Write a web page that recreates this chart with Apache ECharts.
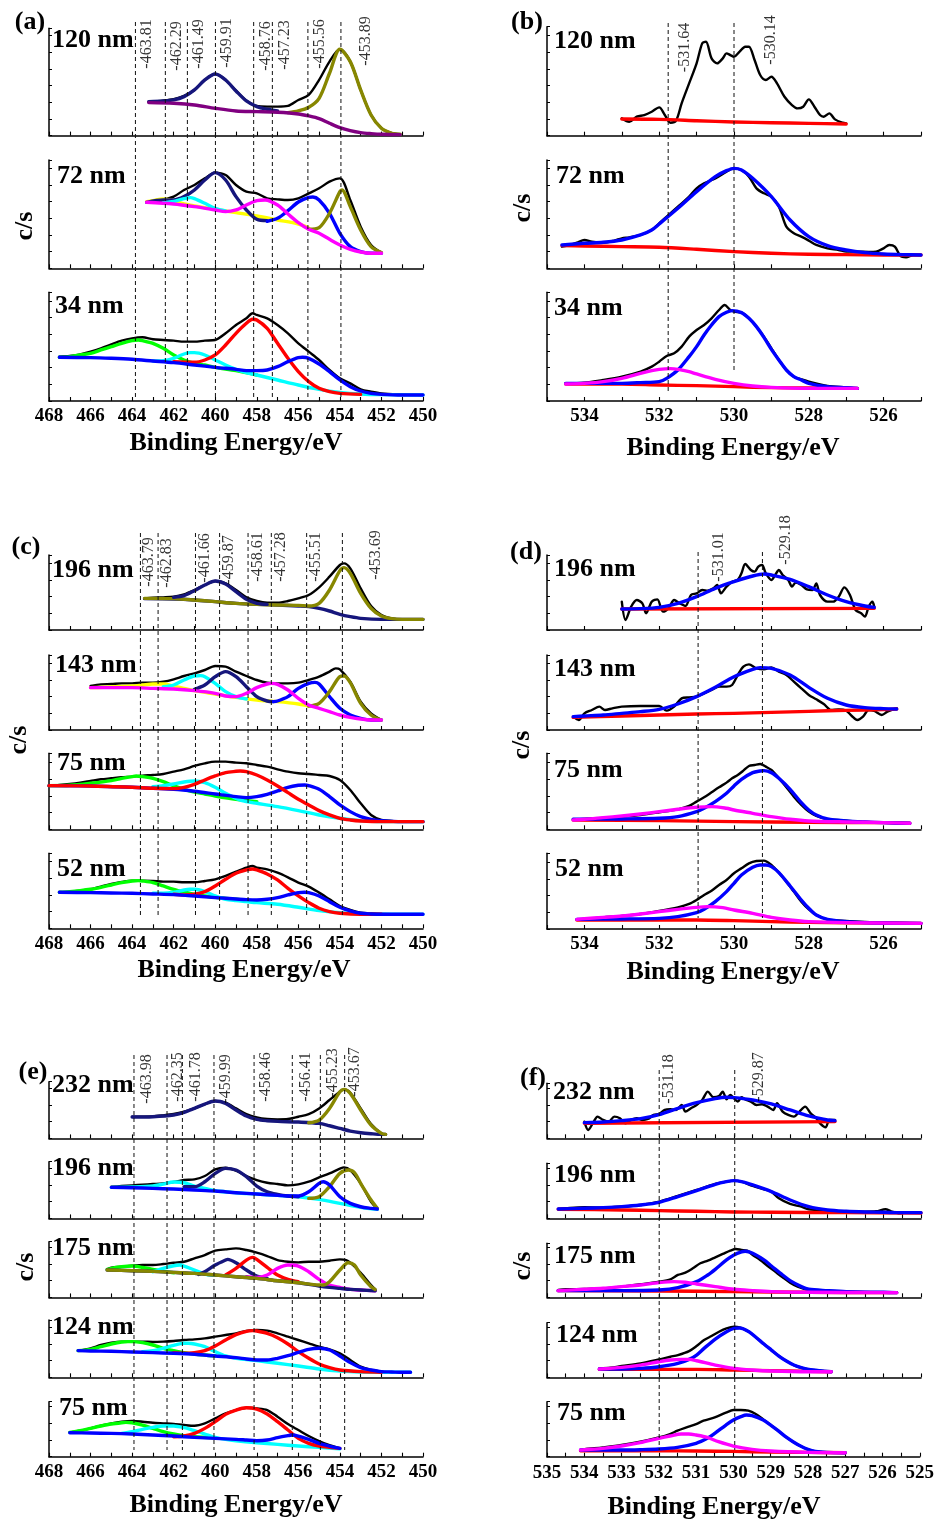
<!DOCTYPE html>
<html><head><meta charset="utf-8">
<script src="https://cdn.jsdelivr.net/npm/echarts@6/dist/echarts.min.js"></script>
<style>html,body{margin:0;padding:0;background:#fff}#c{width:937px;height:1524px}</style>
</head><body><div id="c"></div>
<script>
const P = (xs, ys) => xs.map((x, i) => [x, ys[i]]);

// ---------- (a) Ti 2p ----------
const a120_exp = P([463.2,462.5,462,461.5,461,460.5,460,459.5,459,458.5,458,457.5,457,456.5,456,455.5,455,454.5,454,453.5,453,452.5,452,451.5,451.1],[102,105,109,119,137,167,185,167,135,105,89,87,87,89,107,122,167,222,259,222,137,62,22,7,4]);
const a120_navy = P([463.2,462.5,462,461.5,461,460.5,460,459.5,459,458.5,458,457.5,457],[102,104,107,117,137,167,185,167,134,104,87,79,74]);
const a120_olive = P([456.5,456,455.5,455,454.5,454,453.5,453,452.5,452,451.5,451.1],[69,74,85,112,187,259,222,137,62,22,7,4]);
const a120_bg = P([463.2,462,461,460,459,458,457,456,455.5,455,454.5,454,453.5,453,452.5,452,451.1],[99,97,92,82,74,72,70,65,59,51,37,24,15,9,6,4,3]);

const a72_exp = P([463.3,462.5,462,461.5,461,460.5,460,459.5,459,458.5,458,457.5,457,456.5,456,455.5,455,454.5,454,453.5,453,452.5,452],[200,207,215,235,250,270,287,280,250,230,225,210,207,205,210,225,240,260,270,205,125,70,47]);
const a72_yellow = P([463.3,463,462.5,462,461.5,461,460,459,458,457,456,455.5],[200,203,208,203,193,187,177,167,157,145,133,121]);
const a72_cyan = P([462.5,462,461.5,461.2,461,460.5,460,459.5],[197,201,209,212,209,195,180,172]);
const a72_navy = P([463.3,462.5,462,461.5,461,460.5,460,459.5,459,458.5,458,457.5],[198,205,205,215,235,265,287,265,215,175,147,143]);
const a72_blue = P([457.5,457,456.5,456,455.5,455.3,455,454.5,454,453.5,453,452.5,452],[141,150,173,199,213,214,205,165,105,65,50,45,45]);
const a72_olive = P([455.5,455,454.5,454,453.9,453.5,453,452.5,452],[117,122,165,230,235,185,115,65,47]);
const a72_magenta = P([463.3,462,461,460,459.5,459,458.5,458,457.6,457,456.5,456,455.5,455,454.5,454,453.5,453,452.5,452],[198,193,185,175,170,175,190,203,205,190,163,137,117,105,87,70,57,49,45,45]);

const a34_exp = P([467.5,467,466.5,466,465.5,465,464.5,464,463.5,463,462.5,462,461.5,461,460.5,460,459.5,459,458.5,458.2,458,457.5,457,456.5,456,455.5,455,454.5,454,453.5,453,452.5,452,451,450],[133,135,140,148,158,170,181,188,191,185,183,181,178,178,181,183,203,228,248,263,258,248,228,203,173,148,123,93,68,53,35,28,23,20,18]);
const a34_green = P([467.5,467,466.5,466,465.5,465,464.5,464,463.7,463.5,463,462.5,462,461.5,461,460.5,460,459,458],[131,133,138,143,153,163,173,181,183,181,173,158,138,123,113,108,101,91,78]);
const a34_cyan = P([463,462.5,462,461.5,461.2,461,460.5,460,459.5,459,458.5,458,457,456,455,454,453,452,450],[120,121,128,141,145,145,138,123,108,95,85,78,63,48,35,26,21,19,18]);
const a34_red = P([462,461,460.5,460,459.5,459,458.5,458.2,458,457.5,457,456.5,456,455.5,455,454.5,454,453],[118,116,123,138,168,203,233,245,243,218,173,128,88,58,38,28,23,20]);
const a34_blue = P([467.5,466,465,464,463,462,461,460,459,458.5,458,457.5,457,456.5,456,455.8,455.5,455,454.5,454,453.5,453,452.5,452,451,450],[131,130,128,125,120,115,108,101,95,91,91,93,103,118,130,131,128,111,88,63,43,30,23,20,18,18]);

// ---------- (b) O 1s ----------
const b120_exp = P([533,532.8,532.6,532.4,532.2,532,531.85,531.7,531.55,531.4,531.2,531,530.85,530.75,530.6,530.45,530.3,530.2,530.1,530,529.85,529.7,529.6,529.45,529.3,529.15,529,528.85,528.65,528.45,528.3,528.15,528,527.85,527.7,527.6,527.45,527.3,527.1,527],[52,42,57,62,72,85,62,39,45,97,157,217,277,282,232,217,232,247,242,237,252,267,267,227,182,167,177,157,117,92,82,87,109,87,62,57,67,49,39,37]);
const b120_red = P([533,532,531,530,529,528,527],[50,49,45,41,39,37,35]);

const b72_exp = P([534.6,534.4,534.2,534,533.8,533.5,533.2,533,532.8,532.5,532.2,532,531.8,531.5,531.2,531,530.8,530.5,530.2,530,529.8,529.6,529.4,529.2,529,528.8,528.6,528.4,528.2,528,527.8,527.5,527.2,527,526.7,526.4,526.2,526,525.85,525.7,525.55,525.4,525.2,525],[65,70,77,85,80,77,83,90,93,100,115,135,155,185,215,240,255,270,290,300,295,275,240,225,215,185,125,105,95,83,70,60,55,50,50,49,50,60,70,65,37,33,40,40]);
const b72_blue = P([534.6,534,533.5,533,532.5,532.2,532,531.5,531,530.5,530.2,530,529.8,529.5,529,528.5,528,527.5,527,526.5,526,525.5,525],[70,75,78,85,100,115,133,180,230,275,293,300,295,270,215,145,95,68,55,47,43,41,40]);
const b72_red = P([534.6,534,533,532,531,530,529,528,527,526,525],[68,67,65,63,57,50,45,42,41,40,40]);

const b34_exp = P([534.5,534,533.5,533,532.5,532.2,532,531.8,531.6,531.4,531.2,531,530.8,530.6,530.4,530.25,530.1,530,529.8,529.6,529.4,529.2,529,528.8,528.6,528.4,528.2,528,527.5,527,526.7],[53,55,63,73,88,103,118,135,143,163,193,213,228,248,273,288,273,268,265,248,223,193,158,123,93,73,65,58,45,41,38]);
const b34_blue = P([534.5,533.5,533,532.5,532,531.8,531.5,531.2,531,530.8,530.6,530.4,530.2,530.05,529.8,529.6,529.4,529.2,529,528.8,528.6,528.4,528.2,528,527.5,527,526.7],[53,53,53,55,58,68,93,133,163,198,228,253,266,271,265,248,223,191,155,123,93,73,63,53,43,40,38]);
const b34_magenta = P([534.5,534,533.5,533,532.5,532.2,532,531.7,531.5,531.2,531,530.5,530,529.5,529,528,527,526.7],[51,53,58,68,83,91,95,97,95,88,81,65,53,45,41,38,38,38]);
const b34_red = P([534.5,533,532,531,530,529,528,526.7],[51,51,48,46,43,40,39,38]);

// ---------- (c) Ti 2p ----------
const c196_exp = P([463.4,463,462.5,462,461.5,461,460.5,460,459.5,459,458.5,458,457.5,457,456.5,456,455.5,455,454.5,454,453.8,453.5,453,452.5,452,451.5,451,450],[95,97,98,100,107,120,135,147,140,120,98,87,82,82,87,95,105,128,160,195,200,185,125,72,45,35,32,32]);
const c196_navy = P([462,461.5,461,460.5,460,459.5,459,458.5,458,457.5],[98,103,118,135,147,138,115,92,80,77]);
const c196_bg = P([463.4,462,461,460,459,458,457,456,455.5,455,454.5,454,453.5,453,452,450],[94,93,90,85,80,77,75,72,70,65,57,47,40,35,32,32]);
const c196_olive = P([463.4,462,461,460,459,458,457,456,455.5,455,454.5,454,453.8,453.5,453,452.5,452,451.5,451,450],[95,94,90,85,80,77,75,74,72,80,120,178,187,170,110,65,42,34,32,32]);

const c143_exp = P([466,465.5,465,464.5,464,463.5,463,462.5,462,461.5,461,460.5,460,459.5,459,458.5,458,457.5,457,456.5,456,455.5,455,454.5,454.2,454,453.5,453,452.5,452],[132,137,138,140,140,142,142,145,152,162,170,180,192,190,175,162,150,142,140,140,142,150,160,175,185,182,145,85,50,30]);
const c143_yellow = P([466,464,463.5,463,462.5,462,461.5,461,460,459,458,457,456,455.5],[127,132,135,138,138,132,125,118,108,98,90,85,78,72]);
const c143_cyan = P([462.5,462,461.5,461,460.7,460.5,460,459.5,459,458.5],[130,135,150,162,163,160,140,115,100,93]);
const c143_navy = P([461,460.5,460,459.5,459,458.5,458,457.5,457.2],[122,135,160,175,160,130,100,87,85]);
const c143_blue = P([457.2,457,456.5,456,455.5,455.2,455,454.5,454,453.5,453,452.5,452],[85,87,100,125,140,143,138,100,65,45,35,30,30]);
const c143_olive = P([455.5,455,454.5,454,453.8,453.5,453,452.5,452],[72,80,115,160,162,142,80,45,30]);
const c143_magenta = P([466,465,464,463,462,461,460,459.5,459,458.5,458,457.5,457.3,457,456.5,456,455.5,455,454.5,454,453.5,453,452.5,452],[127,127,127,125,123,118,110,102,100,110,127,138,140,137,120,95,75,65,55,45,38,33,30,30]);

const c75_exp = P([468,467.5,467,466.5,466,465.5,465,464.5,464,463.5,463,462.5,462,461.5,461,460.5,460,459.5,459,458.5,458,457.5,457,456.5,456,455.5,455,454.5,454,453.5,453,452.5,452,451.5,451,450],[131,133,136,140,145,150,153,156,158,161,163,166,173,180,190,198,203,203,200,198,193,188,180,173,168,166,163,160,148,118,78,43,28,25,23,23]);
const c75_green = P([468,467,466,465,464.5,464,463.8,463.5,463,462.5,462,461.5,461,460.5,460,459,458],[131,132,138,146,153,158,160,158,153,143,130,120,112,106,100,90,83]);
const c75_cyan = P([463,462.5,462,461.5,461,460.5,460,459.5,459,458.5,458,457,456,455,454,453,452,450],[128,131,136,142,145,140,126,108,93,83,78,68,56,43,33,26,23,23]);
const c75_blue = P([468,466,464,463,462,461,460,459,458.5,458,457.5,457,456.5,456,455.7,455.5,455,454.5,454,453.5,453,452.5,452,451,450],[131,130,126,123,120,114,106,98,95,98,105,115,126,132,133,131,120,98,73,53,38,30,26,23,23]);
const c75_red = P([468,466,464,463,462,461.5,461,460.5,460,459.5,459,458.8,458.5,458,457.5,457,456.5,456,455.5,455,454.5,454,453.5,453,452,450],[131,130,126,123,122,126,135,148,160,170,174,175,173,163,148,130,110,90,73,56,43,33,28,25,23,23]);

const c52_exp = P([467.5,467,466.5,466,465.5,465,464.5,464,463.5,463,462.5,462,461.5,461,460.5,460,459.5,459,458.5,458.2,458,457.5,457,456.5,456,455.5,455,454.5,454,453.5,453,452.5,452,451,450],[108,110,113,117,125,133,139,143,143,142,140,140,138,138,142,147,157,170,182,187,182,177,167,153,137,125,107,87,67,55,47,45,43,42,42]);
const c52_green = P([467.5,467,466.5,466,465.5,465,464.5,464,463.7,463.5,463,462.5,462,461.5,461,460.5,460,459,458],[108,110,113,117,123,130,137,142,143,142,137,127,117,109,102,97,93,87,80]);
const c52_cyan = P([463,462.5,462,461.5,461.2,461,460.5,460,459.5,459,458.5,458,457,456,455,454,453,452,450],[105,105,108,115,117,117,110,97,87,83,80,77,72,63,53,47,43,42,42]);
const c52_red = P([462,461.5,461,460.5,460,459.5,459,458.5,458.2,458,457.5,457,456.5,456,455.5,455,454.5,454,453,452],[102,100,102,110,127,147,165,175,178,175,163,145,120,97,77,60,50,45,42,42]);
const c52_blue = P([467.5,466,465,464,463,462,461,460,459,458.5,458,457.5,457,456.5,456,455.7,455.5,455,454.5,454,453.5,453,452.5,452,450],[108,107,106,105,103,101,97,92,88,86,85,87,92,100,107,108,107,97,80,63,52,45,43,42,42]);

// ---------- (d) O 1s ----------
const d196_exp = P([533,532.9,532.75,532.6,532.45,532.35,532.2,532.05,531.9,531.75,531.6,531.45,531.3,531.15,531,530.85,530.7,530.55,530.45,530.35,530.2,530.05,529.9,529.8,529.7,529.55,529.45,529.35,529.25,529.15,529,528.9,528.8,528.7,528.55,528.45,528.35,528.2,528.05,527.9,527.8,527.7,527.5,527.35,527.2,527.05,526.9,526.75,526.6,526.5,526.4,526.3,526.25],[85,30,70,90,80,50,85,92,55,65,90,80,72,105,110,120,118,125,135,110,130,145,150,170,198,180,175,190,195,170,150,165,180,165,150,130,142,135,122,120,140,105,85,85,100,128,105,60,50,40,70,85,70]);
const d196_blue = P([533,532.5,532,531.5,531,530.5,530,529.5,529.2,529,528.5,528,527.5,527,526.5,526.25],[63,64,68,80,100,125,145,162,168,165,152,130,105,85,72,68]);
const d196_red = P([533,526.25],[63,65]);

const d143_exp = P([534.3,534.15,534,533.8,533.6,533.45,533.25,533,532.5,532,531.8,531.6,531.4,531.2,531,530.8,530.6,530.4,530.2,530.05,529.9,529.75,529.6,529.4,529.2,529,528.8,528.6,528.4,528.2,528,527.8,527.6,527.4,527.2,527,526.85,526.7,526.55,526.4,526.25,526.05,525.9,525.75,525.65],[40,30,50,60,70,60,65,70,72,72,58,70,95,98,100,110,120,130,130,135,165,190,197,185,182,188,175,165,145,125,105,92,78,60,62,58,42,30,40,60,57,45,55,62,65]);
const d143_blue = P([534.3,534,533.5,533,532.5,532,531.5,531,530.5,530,529.5,529.3,529,528.5,528,527.5,527,526.5,526,525.65],[40,42,45,50,55,62,78,100,128,160,182,187,185,165,128,95,75,67,64,63]);
const d143_red = P([534.3,533,532,531,530,529,528,527,526,525.65],[38,42,45,48,50,53,56,59,61,63]);

const d75_exp = P([534.3,534,533.5,533,532.5,532,531.5,531.2,531,530.8,530.6,530.4,530.2,530.05,529.9,529.75,529.6,529.45,529.3,529.15,529,528.8,528.6,528.4,528.2,528,527.8,527.5,527,526.5,526,525.5,525.3],[30,31,34,38,43,51,60,70,83,96,111,126,140,153,163,176,190,193,196,188,178,153,126,98,73,53,40,30,26,22,20,20,18]);
const d75_blue = P([534.3,533,532,531.5,531,530.8,530.5,530.2,530,529.8,529.5,529.3,529.2,529,528.8,528.5,528.2,528,527.8,527.5,527,526.5,526,525.3],[30,31,33,38,53,63,83,108,130,150,170,175,176,170,153,120,80,58,43,31,25,22,20,18]);
const d75_magenta = P([534.3,534,533.5,533,532.5,532,531.5,531,530.6,530.2,530,529.5,529,528.5,528,527,526,525.3],[28,30,35,40,46,53,60,66,68,63,58,48,38,30,25,22,20,18]);
const d75_red = P([534.3,532,530,528,526,525.3],[28,26,23,21,20,18]);

const d52_exp = P([534.2,534,533.5,533,532.5,532,531.5,531.2,531,530.8,530.6,530.4,530.2,530,529.8,529.6,529.4,529.2,529,528.8,528.6,528.4,528.2,528,527.8,527.5,527,526.5,526,525],[29,30,35,39,45,54,65,75,87,102,115,132,147,167,182,197,204,205,192,169,142,112,82,59,42,29,24,21,19,17]);
const d52_blue = P([534.2,533,532,531.5,531,530.8,530.5,530.2,530,529.8,529.5,529.3,529.15,529,528.8,528.5,528.2,528,527.8,527.5,527,526.5,526,525],[29,30,32,37,49,59,82,112,137,162,185,192,192,187,169,129,87,62,42,29,22,19,18,17]);
const d52_magenta = P([534.2,534,533.5,533,532.5,532,531.5,531,530.7,530.3,530,529.5,529,528.5,528,527,525],[29,31,35,39,45,52,59,65,67,64,57,47,35,27,22,19,17]);
const d52_red = P([534.2,532,531,530,529,528,526,525],[27,27,27,25,22,20,18,17]);

// ---------- (e) Ti 2p ----------
const e232_exp = P([464,463,462.5,462,461.5,461,460.5,460,459.5,459,458.5,458,457.5,457,456.5,456,455.5,455,454.5,454,453.8,453.5,453,452.5,452,451.8],[65,66,69,73,80,90,103,112,107,90,73,63,58,57,58,65,73,90,115,140,147,137,90,43,15,12]);
const e232_navy = P([464,463,462,461.5,461,460.5,460,459.5,459,458.5,458,457.5,457,456,455,454.5,454,453.5,453,452.5,452,451.8],[64,65,70,78,90,103,112,105,85,67,57,53,51,49,45,38,30,22,17,14,12,12]);
const e232_olive = P([455.5,455,454.5,454,453.8,453.5,453,452.5,452,451.8],[47,55,90,140,147,135,85,40,15,12]);

const e196_exp = P([465,464.5,464,463.5,463,462.5,462,461.5,461,460.5,460,459.5,459,458.5,458,457.5,457,456.5,456,455.5,455,454.5,454,453.8,453.5,453,452.5,452.2],[95,97,99,101,103,105,109,115,117,127,147,152,143,127,115,107,103,99,102,110,123,135,149,153,145,105,50,30]);
const e196_cyan = P([465,464,463,462.5,462,461.5,461,460.5,460,459,458,457,456,455,454,453,452.2],[93,94,97,103,109,107,97,90,83,77,73,69,65,57,45,33,27]);
const e196_navy = P([461.5,461,460.5,460,459.5,459,458.5,458,457.5,457,456.5,456],[95,95,110,135,150,145,125,97,80,72,67,65]);
const e196_olive = P([455.5,455,454.5,454,453.6,453.3,453,452.5,452.2],[60,65,95,135,145,137,105,55,30]);
const e196_blue = P([465,464,463,462,461,460,459,458,457,456.5,456,455.5,455,454.8,454.5,454,453.5,453,452.5,452.2],[93,92,90,88,85,82,77,73,69,67,67,80,105,110,100,65,45,35,30,28]);

const e175_exp = P([465.2,465,464.5,464,463.5,463,462.5,462,461.5,461,460.5,460,459.5,459,458.5,458,457.5,457,456.5,456,455.5,455,454.5,454,453.7,453.5,453,452.5,452.3],[84,89,92,95,97,97,100,104,107,117,127,140,144,147,142,134,124,112,107,105,107,107,110,114,112,104,74,37,24]);
const e175_green = P([465.2,465,464.5,464,463.5,463,462.5,462],[84,87,92,94,90,84,78,74]);
const e175_cyan = P([463,462.5,462,461.7,461.5,461,460.5,460],[77,87,95,97,94,82,70,66]);
const e175_navy = P([460.8,460.5,460,459.5,459.4,459,458.5,458,457.5],[69,77,97,112,114,104,82,64,57]);
const e175_red = P([459.5,459,458.5,458.2,458,457.5,457,456.5,456],[67,87,112,120,114,90,67,54,47]);
const e175_magenta = P([458.5,458,457.5,457,456.5,456,455.5,455,454.5,454,453.5,453,452.3],[62,60,67,87,97,94,77,54,37,30,24,22,20]);
const e175_bg = P([465.2,464,463,462,461,460,459,458,457,456,455,454.5,454,453.5,453,452.3],[82,80,78,75,72,67,62,57,50,44,34,30,27,24,22,20]);
const e175_olive = P([465.2,464,463,462,461,460,459,458,457,456,455,454.8,454.5,454,453.6,453.3,453,452.5,452.3],[82,80,78,75,72,67,62,57,50,44,37,37,47,82,104,97,67,32,24]);

const e124_exp = P([466.6,466,465.5,465,464.5,464,463.5,463,462.5,462,461.5,461,460.5,460,459.5,459,458.5,458,457.5,457,456.5,456,455.5,455,454.5,454,453.5,453,452.5,452,451.5,451,450.6],[80,87,97,104,107,107,107,106,107,109,112,114,117,122,127,132,139,142,140,132,122,112,102,92,84,72,52,32,22,17,15,15,15]);
const e124_green = P([466.6,466,465.5,465,464.5,464.2,464,463.5,463,462.5,462,461.5,461,460],[80,84,92,100,106,107,107,104,97,87,80,74,70,64]);
const e124_cyan = P([463.5,463,462.5,462,461.5,461.3,461,460.5,460,459.5,459,458,457,456,455,454,453,452,450.6],[77,80,87,96,102,102,100,92,77,64,57,50,42,34,25,19,16,15,15]);
const e124_red = P([462,461.5,461,460.5,460,459.5,459,458.5,458.2,458,457.5,457,456.5,456,455.5,455,454.5,454,453,452],[74,72,74,80,94,112,128,138,140,139,132,119,100,77,57,40,29,22,17,15]);
const e124_blue = P([466.6,466,465,464,463,462,461,460,459,458.5,458,457.5,457,456.5,456,455.5,455,454.5,454,453.5,453,452.5,452,451.5,451,450.6],[80,79,78,76,74,72,69,64,59,55,52,52,57,65,75,84,87,82,64,44,29,22,17,16,15,15]);

const e75_exp = P([467,466.5,466,465.5,465,464.5,464,463.5,463,462.5,462,461.5,461,460.5,460,459.5,459,458.5,458,457.5,457,456.5,456,455.5,455,454.5,454],[73,78,85,93,100,105,107,105,102,100,98,95,93,100,115,130,140,147,145,140,120,98,80,62,47,35,25]);
const e75_green = P([467,466.5,466,465.5,465,464.5,464.3,464,463.5,463,462.5,462,461.5,461,460],[73,78,85,92,98,102,103,102,95,85,75,68,63,60,57]);
const e75_cyan = P([464.5,464,463.5,463,462.5,462,461.5,461,460.5,460,459.5,459,458,457,456,455,454],[70,75,82,88,92,92,87,78,68,58,52,48,42,37,32,28,24]);
const e75_red = P([462,461.5,461,460.5,460,459.5,459,458.5,458,457.5,457,456.5,456,455.5,455,454.5,454],[60,62,70,85,105,127,140,147,143,128,105,80,55,40,32,28,25]);
const e75_blue = P([467,466,465,464,463,462,461,460,459,458.5,458,457.5,457,456.5,456.3,456,455.5,455,454.5,454],[72,71,70,68,65,62,58,55,52,50,48,50,57,63,65,62,52,40,32,25]);

// ---------- (f) O 1s ----------
const f232_exp = P([534,533.9,533.75,533.65,533.5,533.35,533.2,533.05,532.9,532.75,532.6,532.45,532.3,532.15,532,531.85,531.7,531.55,531.4,531.3,531.15,531,530.85,530.7,530.55,530.4,530.3,530.2,530.1,530,529.9,529.8,529.7,529.55,529.4,529.25,529.1,528.95,528.85,528.7,528.55,528.4,528.25,528.1,527.95,527.8,527.7,527.55,527.45,527.3],[50,25,50,65,55,50,65,60,45,55,60,55,58,70,73,85,87,85,100,80,90,100,115,140,123,127,140,117,130,120,110,123,117,110,100,102,95,85,105,80,70,65,80,95,75,60,45,33,55,55]);
const f232_blue = P([534,533.5,533,532.5,532,531.5,531,530.5,530.2,530,529.5,529,528.5,528,527.5,527.3],[47,49,53,59,71,90,107,119,123,122,115,103,85,67,55,53]);
const f232_red = P([534,527.3],[45,50]);

const f196_exp = P([534.7,534.5,534,533.5,533,532.5,532,531.5,531,530.5,530.2,530,529.8,529.5,529.2,529,528.8,528.5,528.2,528,527.5,527,526.5,526.2,525.95,525.8,525.6,525.4,525],[28,30,33,32,35,40,50,67,85,103,110,113,110,97,87,80,60,43,35,27,23,20,20,21,27,21,15,17,17]);
const f196_blue = P([534.7,534,533.5,533,532.5,532,531.5,531,530.5,530.2,530,529.8,529.5,529,528.5,528,527.5,527,526.5,526,525.5,525],[28,30,32,35,40,48,65,83,102,110,113,110,100,80,55,35,25,21,19,18,17,17]);
const f196_red = P([534.7,533,532,531,530,529,527,525],[27,25,23,21,19,18,17,16]);

const f175_exp = P([534.7,534.5,534,533.5,533,532.5,532,531.7,531.5,531.3,531.1,530.9,530.7,530.5,530.3,530.1,529.95,529.8,529.65,529.5,529.3,529.1,528.9,528.7,528.5,528.3,528,527.5,527,526.5,526,525.65],[22,24,25,27,32,39,47,54,67,74,87,102,110,120,130,140,145,142,140,127,112,94,77,60,44,32,22,19,17,15,14,14]);
const f175_blue = P([534.7,534,533,532,531.5,531,530.7,530.5,530.2,530,529.8,529.7,529.5,529.2,529,528.7,528.5,528.2,528,527.5,527,526,525.65],[20,20,20,22,29,47,67,84,112,127,136,138,132,112,94,67,50,32,24,20,17,15,14]);
const f175_magenta = P([534.7,534,533.5,533,532.5,532,531.6,531.3,531,530.5,530,529.5,529,528,526,525.65],[20,24,27,32,37,44,47,45,40,32,24,20,17,15,14,14]);
const f175_red = P([534.7,532,530,528,525.65],[20,19,17,15,14]);

const f124_exp = P([533.6,533.3,533,532.5,532,531.7,531.5,531.2,531,530.8,530.6,530.4,530.2,530,529.85,529.6,529.4,529.2,529,528.8,528.6,528.4,528.2,528,527.7,527.4],[27,29,34,42,54,62,67,79,94,112,124,137,147,152,150,137,119,100,82,64,49,37,29,24,20,17]);
const f124_blue = P([533.6,533,532.5,532,531.5,531.2,531,530.8,530.5,530.2,530,529.85,529.6,529.4,529.2,529,528.8,528.6,528.4,528.2,528,527.7,527.4],[25,25,27,32,42,54,67,87,115,137,147,148,137,119,100,82,64,49,37,29,24,20,17]);
const f124_magenta = P([533.6,533,532.5,532,531.7,531.4,531.2,531,530.5,530,529.5,529,528,527.4],[25,30,37,47,52,54,54,50,37,27,22,19,17,17]);
const f124_red = P([533.6,532,531,530,529,528,527.4],[24,24,24,22,20,18,17]);

const f75_exp = P([534.1,534,533.5,533,532.5,532,531.7,531.5,531.2,531,530.8,530.5,530.2,530,529.8,529.6,529.4,529.2,529,528.8,528.6,528.4,528.2,528,527.8,527.5,527.2,527],[20,22,28,35,45,58,68,78,90,98,108,118,132,140,140,138,128,112,95,78,60,45,32,22,16,13,12,12]);
const f75_blue = P([534.1,533,532.5,532,531.5,531,530.7,530.5,530.2,530,529.8,529.65,529.5,529.2,529,528.8,528.6,528.4,528.2,528,527.8,527.5,527],[20,20,21,23,28,40,55,70,95,110,120,125,123,110,95,78,60,45,32,22,16,13,12]);
const f75_magenta = P([534.1,534,533.5,533,532.5,532,531.7,531.4,531.2,531,530.7,530.4,530,529.5,529,528,527],[20,21,25,32,42,55,62,68,68,65,58,45,32,22,17,13,12]);
const f75_red = P([534.1,532,531,530,529,528,527],[18,18,17,16,14,13,12]);

// ---------- reference lines (binding energies) and their labels ----------
const a_lines = [463.84,462.40,461.34,459.99,458.15,457.25,455.54,453.95];
const a_labels = ['-463.81','-462.29','-461.49','-459.91','-458.76','-457.23','-455.56','-453.89'];
const b_lines = [531.76,530.0];
const b_labels = ['-531.64','-530.14'];
const c_lines = [463.60,462.75,460.95,459.79,458.42,457.30,455.60,453.88];
const c_labels = ['-463.79','-462.83','-461.66','-459.87','-458.61','-457.28','-455.51','-453.69'];
const d_lines = [530.96,529.24];
const d_labels = ['-531.01','-529.18'];
const e_lines = [463.91,462.32,461.58,460.06,458.13,456.29,454.94,453.77];
const e_labels = ['-463.98','-462.35','-461.78','-459.99','-458.46','-456.41','-455.23','-453.67'];
const f_lines = [532.0,529.98];
const f_labels = ['-531.18','-529.87'];

// ---------- styles / layout ----------
const FONT = '"Liberation Serif","Times New Roman",serif';
const K='#000000', NV='#16167c', OL='#878700', PU='#800080', MG='#ff00ff', BL='#0000ff', CY='#00ffff', YE='#ffff00', GR='#00ff00', RD='#ff0000';
const evenFmt = v => (Math.abs(v - Math.round(v)) < 1e-6 && Math.round(v) % 2 === 0) ? String(Math.round(v)) : '';
const intFmt = v => (Math.abs(v - Math.round(v)) < 1e-6) ? String(Math.round(v)) : '';
const E = (d) => [d, K, 2.4];
const C = (d, c) => [d, c, 3.4];
const LABEL_SHIFT = 2.5;

const LAYOUT = [
 {left:49, width:374, range:[450,468], step:1, fmt:evenFmt, margin:6,
  oTop:0, oH:401, lTop:22, lBot:[397,397,397,397,397,397,397,397], labY:[44,46,44,43,46,45,44,41], labDx:[8.5,9,9,8.5,9.3,9.8,9.2,22.7], lines:a_lines, labels:a_labels,
  subs:[
   {top:28.3, height:107.3, ymax:322, curves:[E(a120_exp),C(a120_navy,NV),C(a120_olive,OL),C(a120_bg,PU)]},
   {top:160, height:108.3, ymax:325, curves:[E(a72_exp),C(a72_yellow,YE),C(a72_navy,NV),C(a72_cyan,CY),C(a72_blue,BL),C(a72_olive,OL),C(a72_magenta,MG)]},
   {top:292.3, height:108.7, ymax:326, curves:[E(a34_exp),C(a34_green,GR),C(a34_cyan,CY),C(a34_red,RD),C(a34_blue,BL)]}
  ]},
 {left:547, width:374, range:[525,535], step:1, fmt:evenFmt, margin:6,
  oTop:0, oH:401, lTop:23, lBot:[392,370], labY:[47.5,40], labDx:[14,34.7], lines:b_lines, labels:b_labels,
  subs:[
   {top:26.7, height:109, ymax:327, curves:[E(b120_exp),C(b120_red,RD)]},
   {top:160, height:108.3, ymax:325, curves:[E(b72_exp),C(b72_red,RD),C(b72_blue,BL)]},
   {top:292.3, height:108.7, ymax:326, curves:[E(b34_exp),C(b34_red,RD),C(b34_blue,BL),C(b34_magenta,MG)]}
  ]},
 {left:49, width:374, range:[450,468], step:1, fmt:evenFmt, margin:6,
  oTop:500, oH:428, lTop:533, lBot:[918,918,918,918,918,918,918,918], labY:[562,563,558,560,557,557,557,555], labDx:[6,6,6.5,7,7,6.5,7,31], lines:c_lines, labels:c_labels,
  subs:[
   {top:555, height:75, ymax:225, curves:[E(c196_exp),C(c196_bg,NV),C(c196_olive,OL),C(c196_navy,NV)]},
   {top:655, height:75, ymax:225, curves:[E(c143_exp),C(c143_yellow,YE),C(c143_cyan,CY),C(c143_navy,NV),C(c143_blue,BL),C(c143_olive,OL),C(c143_magenta,MG)]},
   {top:753.3, height:76, ymax:228, curves:[E(c75_exp),C(c75_green,GR),C(c75_cyan,CY),C(c75_blue,BL),C(c75_red,RD)]},
   {top:853.3, height:75, ymax:225, curves:[E(c52_exp),C(c52_green,GR),C(c52_cyan,CY),C(c52_red,RD),C(c52_blue,BL)]}
  ]},
 {left:547, width:374, range:[525,535], step:1, fmt:evenFmt, margin:6,
  oTop:500, oH:429, lTop:552, lBot:[918,918], labY:[557,540], labDx:[18.4,21], lines:d_lines, labels:d_labels,
  subs:[
   {top:555, height:75, ymax:225, curves:[E(d196_exp),C(d196_red,RD),C(d196_blue,BL)]},
   {top:655, height:75, ymax:225, curves:[E(d143_exp),C(d143_red,RD),C(d143_blue,BL)]},
   {top:753.3, height:76, ymax:228, curves:[E(d75_exp),C(d75_red,RD),C(d75_blue,BL),C(d75_magenta,MG)]},
   {top:853.3, height:75.7, ymax:227, curves:[E(d52_exp),C(d52_red,RD),C(d52_blue,BL),C(d52_magenta,MG)]}
  ]},
 {left:49, width:374, range:[450,468], step:1, fmt:evenFmt, margin:6,
  oTop:1040, oH:417, lTop:1055, lBot:[1450,1450,1450,1450,1450,1450,1450,1450], labY:[1079,1077,1077,1079,1077,1077,1073,1072], labDx:[10.7,8.7,10.6,9,9,10.6,10.3,7.3], lines:e_lines, labels:e_labels,
  subs:[
   {top:1081.7, height:56.7, ymax:170, curves:[E(e232_exp),C(e232_navy,NV),C(e232_olive,OL)]},
   {top:1161.7, height:56.7, ymax:170, curves:[E(e196_exp),C(e196_cyan,CY),C(e196_navy,NV),C(e196_olive,OL),C(e196_blue,BL)]},
   {top:1241.7, height:55.7, ymax:167, curves:[E(e175_exp),C(e175_green,GR),C(e175_cyan,CY),C(e175_navy,NV),C(e175_red,RD),C(e175_magenta,MG),C(e175_bg,NV),C(e175_olive,OL)]},
   {top:1320, height:57.3, ymax:172, curves:[E(e124_exp),C(e124_green,GR),C(e124_cyan,CY),C(e124_red,RD),C(e124_blue,BL)]},
   {top:1401.7, height:55, ymax:165, curves:[E(e75_exp),C(e75_green,GR),C(e75_cyan,CY),C(e75_red,RD),C(e75_blue,BL)]}
  ]},
 {left:547, width:374, range:[525,535], step:0.5, fmt:intFmt, margin:7,
  oTop:1040, oH:417, lTop:1070, lBot:[1450,1450], labY:[1079,1077], labDx:[7.4,21.7], lines:f_lines, labels:f_labels,
  subs:[
   {top:1083.3, height:55, ymax:165, curves:[E(f232_exp),C(f232_red,RD),C(f232_blue,BL)]},
   {top:1163.3, height:55, ymax:165, curves:[E(f196_exp),C(f196_red,RD),C(f196_blue,BL)]},
   {top:1243.3, height:54, ymax:162, curves:[E(f175_exp),C(f175_red,RD),C(f175_blue,BL),C(f175_magenta,MG)]},
   {top:1322.7, height:54.7, ymax:164, curves:[E(f124_exp),C(f124_red,RD),C(f124_blue,BL),C(f124_magenta,MG)]},
   {top:1401.7, height:55, ymax:165, curves:[E(f75_exp),C(f75_red,RD),C(f75_blue,BL),C(f75_magenta,MG)]}
  ]}
];

// texts: [text, x, y]
const PANEL_LETTERS = [['(a)',30,22],['(b)',527,22],['(c)',26,547],['(d)',526,552],['(e)',33,1072],['(f)',533,1078]];
const SUB_NAMES = [
 ['120 nm',52,40],['72 nm',57,176],['34 nm',55,306],
 ['120 nm',554,41],['72 nm',556,176],['34 nm',554,308],
 ['196 nm',52,570],['143 nm',55,665],['75 nm',57,763],['52 nm',57,869],
 ['196 nm',554,569],['143 nm',554,669],['75 nm',554,770],['52 nm',555,869],
 ['232 nm',52,1085],['196 nm',52,1168],['175 nm',52,1248],['124 nm',52,1327],['75 nm',59,1408],
 ['232 nm',553,1092],['196 nm',554,1175],['175 nm',554,1256],['124 nm',556,1335],['75 nm',557,1413]
];
const YNAMES = [['c/s',25,226],['c/s',523,208],['c/s',19,740],['c/s',522,745],['c/s',26,1267],['c/s',523,1266]];
const XNAMES = [['Binding Energy/eV',236,443],['Binding Energy/eV',733,448],['Binding Energy/eV',244,970],['Binding Energy/eV',733,972],['Binding Energy/eV',236,1505],['Binding Energy/eV',714,1507]];

// ---------- build option ----------
const grids = [], xAxes = [], yAxes = [], series = [];
const axisLineStyle = {color:'#000', width:1.5};
LAYOUT.forEach(p => {
  p.subs.forEach((s, i) => {
    const gi = grids.length;
    const last = i === p.subs.length - 1;
    grids.push({left:p.left, width:p.width, top:s.top, height:s.height, containLabel:false});
    xAxes.push({gridIndex:gi, type:'value', min:p.range[0], max:p.range[1], inverse:true, interval:p.step,
      axisLine:{show:true, onZero:false, lineStyle:axisLineStyle},
      axisTick:{show:true, inside:true, length:4, lineStyle:{color:'#000', width:1.1}},
      axisLabel:{show:last, margin:p.margin, formatter:p.fmt, color:'#000', fontFamily:FONT, fontWeight:'bold', fontSize:19, showMinLabel:true, showMaxLabel:true},
      splitLine:{show:false}});
    yAxes.push({gridIndex:gi, type:'value', min:0, max:s.ymax, interval:50,
      axisLine:{show:true, onZero:false, lineStyle:axisLineStyle},
      axisTick:{show:true, inside:true, length:3, lineStyle:{color:'#000', width:1}},
      axisLabel:{show:false}, splitLine:{show:false}});
    s.curves.forEach(([d, c, w]) => series.push({type:'line', xAxisIndex:gi, yAxisIndex:gi, data:d,
      symbol:'none', showSymbol:false, smooth:0.3, silent:true, animation:false,
      lineStyle:{color:c, width:w, cap:'round', join:'round'}}));
  });
  // overlay for dashed reference lines and their labels
  const gi = grids.length;
  grids.push({left:p.left, width:p.width, top:p.oTop, height:p.oH});
  xAxes.push({gridIndex:gi, type:'value', min:p.range[0], max:p.range[1], inverse:true, show:false});
  yAxes.push({gridIndex:gi, type:'value', min:0, max:p.oH, inverse:true, show:false});
  p.lines.forEach((v, k) => series.push({type:'line', xAxisIndex:gi, yAxisIndex:gi,
    data:[[v, p.lTop - p.oTop],[v, p.lBot[k] - p.oTop]], symbol:'none', silent:true, animation:false, z:5,
    lineStyle:{color:'#111', width:1, type:[4,3]}}));
  // label offset is expressed in the rotated (90 deg) text frame: second component moves it rightward on screen
  series.push({type:'scatter', xAxisIndex:gi, yAxisIndex:gi, symbolSize:1, silent:true, animation:false, z:6,
    itemStyle:{color:'rgba(0,0,0,0)'},
    label:{show:true, position:'inside', rotate:90, formatter:'{b}', color:'#000', fontFamily:FONT, fontSize:16},
    data:p.lines.map((v, k) => ({name:p.labels[k], value:[v, p.labY[k] - p.oTop], label:{offset:[0, p.labDx[k] + LABEL_SHIFT]}}))});
});

const txt = (t, x, y, opts) => Object.assign({type:'text', x, y, z:100, silent:true,
  style:{text:t, fill:'#000', font:'bold 26px ' + FONT, align:'center', verticalAlign:'middle', textAlign:'center', textVerticalAlign:'middle'}}, opts || {});
const graphics = [];
PANEL_LETTERS.forEach(([t,x,y]) => graphics.push(txt(t,x,y)));
SUB_NAMES.forEach(([t,x,y]) => { const g = txt(t,x,y); g.style.align = 'left'; g.style.textAlign = 'left'; graphics.push(g); });
YNAMES.forEach(([t,x,y]) => graphics.push(txt(t,x,y,{rotation:Math.PI/2})));
XNAMES.forEach(([t,x,y]) => graphics.push(txt(t,x,y)));

const chart = echarts.init(document.getElementById('c'), null, {renderer:'canvas', width:937, height:1524});
chart.setOption({animation:false, backgroundColor:'#fff', grid:grids, xAxis:xAxes, yAxis:yAxes, series:series, graphic:graphics});
</script></body></html>
